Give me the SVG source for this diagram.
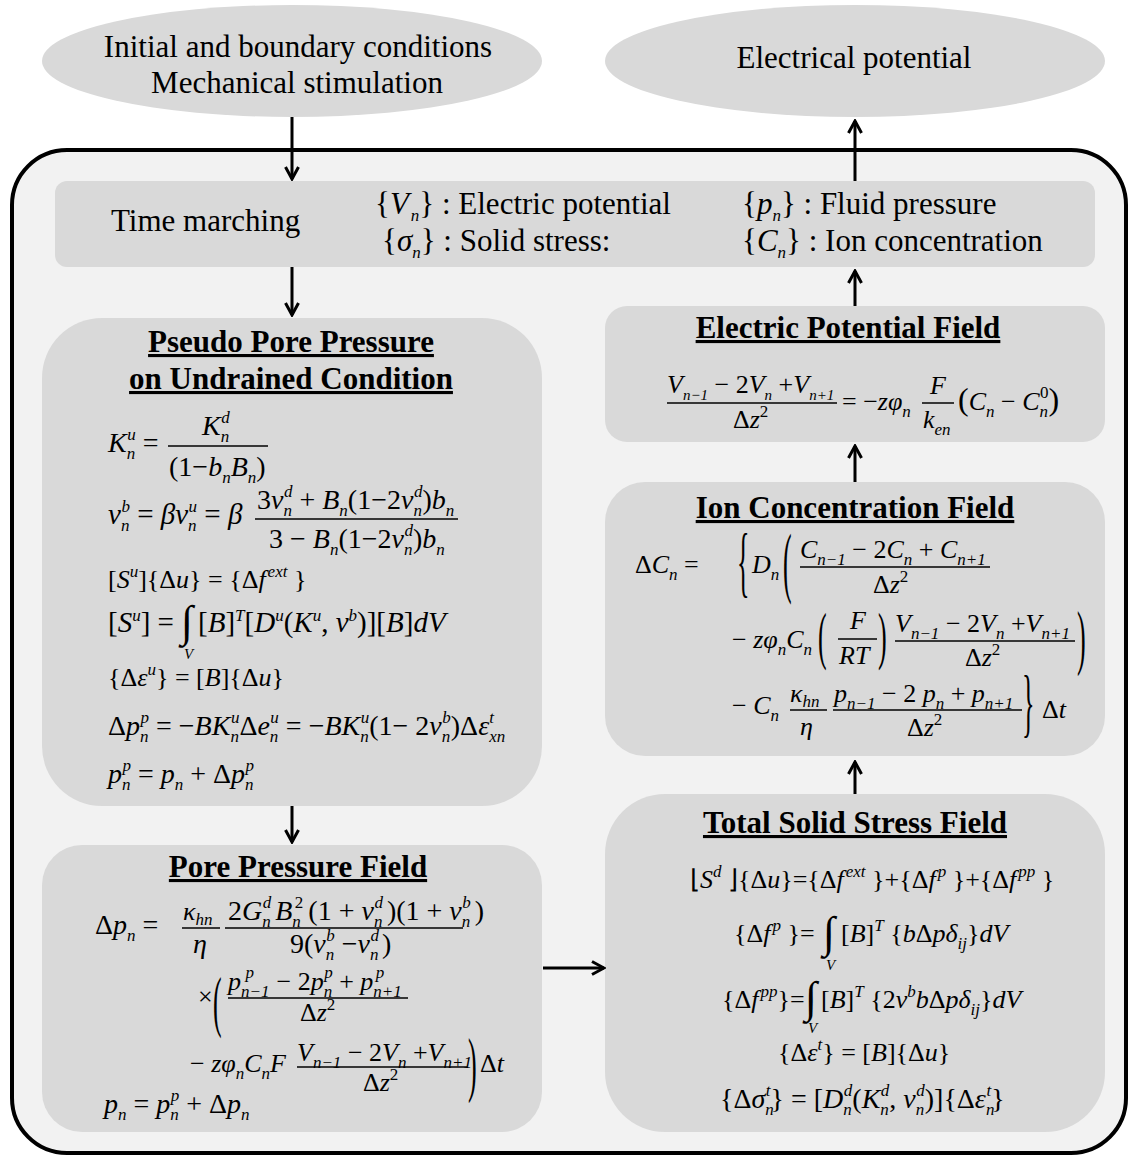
<svg xmlns="http://www.w3.org/2000/svg" width="1129" height="1158" viewBox="0 0 1129 1158">
<defs>
<style>
text{font-family:"Liberation Serif","Times New Roman",serif;fill:#000}
.lbl{font-size:31px}
.tm{font-size:31px}
.ttl{font-size:31px;font-weight:bold;text-decoration:underline;text-anchor:middle}
.eq{font-size:26px}
.e28{font-size:28px}
.e29{font-size:29px}
.i{font-style:italic}
.s{font-size:17px}
.v{font-size:15px;font-style:italic}
.ss{font-size:15px}
.int{font-size:44px}
.fl{stroke:#000;stroke-width:1.5}
.box{fill:#d9d9d9}
.cn{stroke:#000;stroke-width:3;fill:none}
</style>
<marker id="ah" viewBox="0 0 16 16" refX="14" refY="8" markerWidth="16" markerHeight="16" markerUnits="userSpaceOnUse" orient="auto">
<path d="M2,1.5 L14,8 L2,14.5" fill="none" stroke="#000" stroke-width="3"/>
</marker>
</defs>
<rect width="1129" height="1158" fill="#fff"/>

<g id="outer">
<rect x="12" y="150" width="1114" height="1003" rx="55" fill="#f2f2f2" stroke="#000" stroke-width="4"/>
</g>

<g id="node-initial">
<ellipse cx="292" cy="61" rx="250" ry="56" class="box"/>
<text class="lbl" x="298" y="57" text-anchor="middle">Initial and boundary conditions</text>
<text class="lbl" x="297" y="93" text-anchor="middle">Mechanical stimulation</text>
</g>

<g id="node-electrical">
<ellipse cx="855" cy="61" rx="250" ry="56" class="box"/>
<text class="lbl" x="854" y="68" text-anchor="middle">Electrical potential</text>
</g>

<g id="node-time">
<rect x="55" y="181" width="1040" height="86" rx="12" class="box"/>
<text class="tm" x="111" y="231">Time marching</text>
<text class="tm" x="375" y="214">{<tspan class="i">V</tspan><tspan class="s i" dx="2" dy="7">n</tspan><tspan dy="-7">} : Electric potential</tspan></text>
<text class="tm" x="382" y="251">{<tspan class="i">σ</tspan><tspan class="s i" dy="7">n</tspan><tspan dy="-7">}  : Solid stress:</tspan></text>
<text class="tm" x="742" y="214">{<tspan class="i">p</tspan><tspan class="s i" dy="7">n</tspan><tspan dy="-7">}  : Fluid pressure</tspan></text>
<text class="tm" x="742" y="251">{<tspan class="i">C</tspan><tspan class="s i" dy="7">n</tspan><tspan dy="-7">}  : Ion concentration</tspan></text>
</g>

<g id="node-pseudo">
<rect x="42" y="318" width="500" height="488" rx="60" class="box"/>
<text class="ttl" x="291" y="352">Pseudo Pore Pressure</text>
<text class="ttl" x="291" y="389">on Undrained Condition</text>
<text class="e28" x="108" y="452"><tspan class="i">K</tspan><tspan class="s i" dy="7">n</tspan><tspan class="s i" dx="-8" dy="-19">u</tspan><tspan dy="12"> =</tspan></text>
<text class="e28" x="202" y="435"><tspan class="i">K</tspan><tspan class="s i" dy="7">n</tspan><tspan class="s i" dx="-8" dy="-19">d</tspan></text>
<line class="fl" x1="168" y1="446" x2="268" y2="446"/>
<text class="e28" x="169" y="476">(1−<tspan class="i">b</tspan><tspan class="s i" dy="7">n</tspan><tspan class="i" dy="-7">B</tspan><tspan class="s i" dy="7">n</tspan><tspan dy="-7">)</tspan></text>
<text class="e29" x="108" y="524"><tspan class="i">ν</tspan><tspan class="s i" dy="7">n</tspan><tspan class="s i" dx="-8" dy="-19">b</tspan><tspan dy="12"> = </tspan><tspan class="i">βν</tspan><tspan class="s i" dy="7">n</tspan><tspan class="s i" dx="-8" dy="-19">u</tspan><tspan dy="12"> = </tspan><tspan class="i">β</tspan></text>
<text class="e28" x="257" y="509">3<tspan class="i">ν</tspan><tspan class="s i" dy="7">n</tspan><tspan class="s i" dx="-8" dy="-19">d</tspan><tspan dy="12"> + </tspan><tspan class="i">B</tspan><tspan class="s i" dy="7">n</tspan><tspan dy="-7">(1−2</tspan><tspan class="i">ν</tspan><tspan class="s i" dy="7">n</tspan><tspan class="s i" dx="-8" dy="-19">d</tspan><tspan dy="12">)</tspan><tspan class="i">b</tspan><tspan class="s i" dy="7">n</tspan></text>
<line class="fl" x1="255" y1="519" x2="458" y2="519"/>
<text class="e28" x="269" y="548">3 − <tspan class="i">B</tspan><tspan class="s i" dy="7">n</tspan><tspan dy="-7">(1−2</tspan><tspan class="i">ν</tspan><tspan class="s i" dy="7">n</tspan><tspan class="s i" dx="-8" dy="-19">d</tspan><tspan dy="12">)</tspan><tspan class="i">b</tspan><tspan class="s i" dy="7">n</tspan></text>
<text class="eq" x="108" y="588">[<tspan class="i">S</tspan><tspan class="s i" dy="-11">u</tspan><tspan dy="11">]{Δ</tspan><tspan class="i">u</tspan><tspan>} = {Δ</tspan><tspan class="i">f</tspan><tspan class="s i" dx="2" dy="-11">ext</tspan><tspan dy="11"> }</tspan></text>
<text class="e29" x="108" y="632">[<tspan class="i">S</tspan><tspan class="s i" dy="-11">u</tspan><tspan dy="11">] =</tspan></text>
<text class="int" x="181" y="636">∫</text>
<text class="v" x="184" y="659">V</text>
<text class="e29" x="198" y="632">[<tspan class="i">B</tspan>]<tspan class="s i" dy="-11">T</tspan><tspan dy="11">[</tspan><tspan class="i">D</tspan><tspan class="s i" dy="-11">u</tspan><tspan dy="11">(</tspan><tspan class="i">K</tspan><tspan class="s i" dy="-11">u</tspan><tspan dy="11">, </tspan><tspan class="i">ν</tspan><tspan class="s i" dy="-11">b</tspan><tspan dy="11">)][</tspan><tspan class="i">B</tspan><tspan>]</tspan><tspan class="i">dV</tspan></text>
<text class="eq" x="108" y="686">{Δ<tspan class="i">ε</tspan><tspan class="s i" dy="-11">u</tspan><tspan dy="11">} = [</tspan><tspan class="i">B</tspan><tspan>]{Δ</tspan><tspan class="i">u</tspan><tspan>}</tspan></text>
<text class="e28" x="108" y="735">Δ<tspan class="i">p</tspan><tspan class="s i" dy="7">n</tspan><tspan class="s i" dx="-8" dy="-19">p</tspan><tspan dy="12"> = −</tspan><tspan class="i">BK</tspan><tspan class="s i" dy="7">n</tspan><tspan class="s i" dx="-8" dy="-19">u</tspan><tspan dy="12">Δ</tspan><tspan class="i">e</tspan><tspan class="s i" dy="7">n</tspan><tspan class="s i" dx="-8" dy="-19">u</tspan><tspan dy="12"> = −</tspan><tspan class="i">BK</tspan><tspan class="s i" dy="7">n</tspan><tspan class="s i" dx="-8" dy="-19">u</tspan><tspan dy="12">(1− 2</tspan><tspan class="i">ν</tspan><tspan class="s i" dy="7">n</tspan><tspan class="s i" dx="-8" dy="-19">b</tspan><tspan dy="12">)Δ</tspan><tspan class="i">ε</tspan><tspan class="s i" dy="7">xn</tspan><tspan class="s i" dx="-16" dy="-19">t</tspan></text>
<text class="e28" x="108" y="783"><tspan class="i">p</tspan><tspan class="s i" dy="7">n</tspan><tspan class="s i" dx="-8" dy="-19">p</tspan><tspan dy="12"> = </tspan><tspan class="i">p</tspan><tspan class="s i" dy="7">n</tspan><tspan dy="-7"> + Δ</tspan><tspan class="i">p</tspan><tspan class="s i" dy="7">n</tspan><tspan class="s i" dx="-8" dy="-19">p</tspan></text>
</g>

<g id="node-pore">
<rect x="42" y="845" width="500" height="287" rx="40" class="box"/>
<text class="ttl" x="298" y="877">Pore Pressure Field</text>
<text class="e28" x="95" y="934">Δ<tspan class="i">p</tspan><tspan class="s i" dy="7">n</tspan><tspan dy="-7"> =</tspan></text>
<text class="eq" x="183" y="920"><tspan class="i">κ</tspan><tspan class="s i" dy="5">hn</tspan></text>
<line class="fl" x1="182" y1="928" x2="220" y2="928"/>
<text class="e28 i" x="193" y="953">η</text>
<text class="e28" x="228" y="920">2<tspan class="i">G</tspan><tspan class="s i" dy="7">n</tspan><tspan class="s i" dx="-8" dy="-19">d</tspan><tspan class="i" dx="4" dy="12">B</tspan><tspan class="s i" dy="7">n</tspan><tspan class="s" dx="-6" dy="-19">2</tspan><tspan dx="5" dy="12">(1 + </tspan><tspan class="i">ν</tspan><tspan class="s i" dy="7">n</tspan><tspan class="s i" dx="-8" dy="-19">d</tspan><tspan dx="4" dy="12">)(1 + </tspan><tspan class="i">ν</tspan><tspan class="s i" dy="7">n</tspan><tspan class="s i" dx="-8" dy="-19">b</tspan><tspan dx="4" dy="12">)</tspan></text>
<line class="fl" x1="225" y1="928" x2="463" y2="928"/>
<text class="e28" x="290" y="953">9(<tspan class="i">ν</tspan><tspan class="s i" dy="7">n</tspan><tspan class="s i" dx="-8" dy="-19">b</tspan><tspan dy="12"> −</tspan><tspan class="i">ν</tspan><tspan class="s i" dy="7">n</tspan><tspan class="s i" dx="-8" dy="-19">d</tspan><tspan dx="3" dy="12">)</tspan></text>
<text class="eq" x="198" y="1005">×</text>
<text class="eq" transform="translate(213,1024) scale(1,2.6)">(</text>
<text class="eq" x="228" y="990"><tspan class="i">p</tspan><tspan class="s i" dy="7">n−1</tspan><tspan class="s i" dx="-24" dy="-19">p</tspan><tspan dx="16" dy="12"> − 2</tspan><tspan class="i">p</tspan><tspan class="s i" dy="7">n</tspan><tspan class="s i" dx="-8" dy="-19">p</tspan><tspan dy="12"> + </tspan><tspan class="i">p</tspan><tspan class="s i" dy="7">n+1</tspan><tspan class="s i" dx="-26" dy="-19">p</tspan></text>
<line class="fl" x1="228" y1="998" x2="408" y2="998"/>
<text class="eq" x="300" y="1021">Δ<tspan class="i">z</tspan><tspan class="s" dy="-11">2</tspan></text>
<text class="eq" x="190" y="1072">− <tspan class="i">zφ</tspan><tspan class="s i" dy="7">n</tspan><tspan class="i" dy="-7">C</tspan><tspan class="s i" dy="7">n</tspan><tspan class="i" dy="-7">F</tspan></text>
<text class="eq" x="297" y="1061"><tspan class="i">V</tspan><tspan class="s i" dy="7">n−1</tspan><tspan dy="-7"> − 2</tspan><tspan class="i">V</tspan><tspan class="s i" dy="7">n</tspan><tspan dy="-7">  +</tspan><tspan class="i">V</tspan><tspan class="s i" dy="7">n+1</tspan></text>
<line class="fl" x1="297" y1="1067" x2="467" y2="1067"/>
<text class="eq" x="363" y="1091">Δ<tspan class="i">z</tspan><tspan class="s" dy="-11">2</tspan></text>
<text class="eq" transform="translate(468,1088) scale(1,2.8)">)</text>
<text class="eq" x="480" y="1072">Δ<tspan class="i">t</tspan></text>
<text class="e28" x="104" y="1113"><tspan class="i">p</tspan><tspan class="s i" dy="7">n</tspan><tspan dy="-7"> = </tspan><tspan class="i">p</tspan><tspan class="s i" dy="7">n</tspan><tspan class="s i" dx="-8" dy="-19">p</tspan><tspan dy="12"> + Δ</tspan><tspan class="i">p</tspan><tspan class="s i" dy="7">n</tspan></text>
</g>

<g id="node-epf">
<rect x="605" y="306" width="500" height="136" rx="22" class="box"/>
<text class="ttl" x="848" y="338">Electric Potential Field</text>
<text class="eq" x="667" y="393"><tspan class="i">V</tspan><tspan class="ss i" dy="7">n−1</tspan><tspan dy="-7"> − 2</tspan><tspan class="i">V</tspan><tspan class="ss i" dy="7">n</tspan><tspan dy="-7"> +</tspan><tspan class="i">V</tspan><tspan class="ss i" dy="7">n+1</tspan></text>
<line class="fl" x1="667" y1="403" x2="837" y2="403"/>
<text class="eq" x="733" y="428">Δ<tspan class="i">z</tspan><tspan class="s" dy="-11">2</tspan></text>
<text class="eq" x="842" y="410">= −<tspan class="i">zφ</tspan><tspan class="s i" dy="7">n</tspan></text>
<text class="eq i" x="930" y="394">F</text>
<line class="fl" x1="922" y1="403" x2="954" y2="403"/>
<text class="eq" x="923" y="428"><tspan class="i">k</tspan><tspan class="s i" dy="7">en</tspan></text>
<text class="eq" x="958" y="410"><tspan font-size="32">(</tspan><tspan class="i">C</tspan><tspan class="s i" dy="7">n</tspan><tspan dy="-7"> − </tspan><tspan class="i">C</tspan><tspan class="s i" dy="7">n</tspan><tspan class="s" dx="-8" dy="-19">0</tspan><tspan font-size="32" dy="12">)</tspan></text>
</g>

<g id="node-icf">
<rect x="605" y="482" width="500" height="274" rx="40" class="box"/>
<text class="ttl" x="855" y="518">Ion Concentration Field</text>
<text class="eq" x="635" y="573">Δ<tspan class="i">C</tspan><tspan class="s i" dy="7">n</tspan><tspan dy="-7"> =</tspan></text>
<text class="eq" transform="translate(737,588) scale(1,3)">{</text>
<text class="eq" x="752" y="573"><tspan class="i">D</tspan><tspan class="s i" dy="7">n</tspan></text>
<text class="eq" transform="translate(783,588) scale(1,3)">(</text>
<text class="eq" x="800" y="558"><tspan class="i">C</tspan><tspan class="s i" dy="7">n−1</tspan><tspan dy="-7"> − 2</tspan><tspan class="i">C</tspan><tspan class="s i" dy="7">n</tspan><tspan dy="-7"> + </tspan><tspan class="i">C</tspan><tspan class="s i" dy="7">n+1</tspan></text>
<line class="fl" x1="800" y1="567" x2="990" y2="567"/>
<text class="eq" x="873" y="593">Δ<tspan class="i">z</tspan><tspan class="s" dy="-11">2</tspan></text>
<text class="eq" x="732" y="648">− <tspan class="i">zφ</tspan><tspan class="s i" dy="7">n</tspan><tspan class="i" dy="-7">C</tspan><tspan class="s i" dy="7">n</tspan></text>
<text class="eq" transform="translate(818,657) scale(1,2.4)">(</text>
<text class="eq i" x="850" y="629">F</text>
<line class="fl" x1="838" y1="639" x2="877" y2="639"/>
<text class="eq i" x="839" y="664">RT</text>
<text class="eq" transform="translate(878,657) scale(1,2.4)">)</text>
<text class="eq" x="895" y="632"><tspan class="i">V</tspan><tspan class="s i" dy="7">n−1</tspan><tspan dy="-7"> − 2</tspan><tspan class="i">V</tspan><tspan class="s i" dy="7">n</tspan><tspan dy="-7">  +</tspan><tspan class="i">V</tspan><tspan class="s i" dy="7">n+1</tspan></text>
<line class="fl" x1="895" y1="641" x2="1075" y2="641"/>
<text class="eq" x="965" y="666">Δ<tspan class="i">z</tspan><tspan class="s" dy="-11">2</tspan></text>
<text class="eq" transform="translate(1077,661) scale(1,2.8)">)</text>
<text class="eq" x="732" y="714">− <tspan class="i">C</tspan><tspan class="s i" dy="7">n</tspan></text>
<text class="eq" x="790" y="702"><tspan class="i">κ</tspan><tspan class="s i" dy="5">hn</tspan></text>
<line class="fl" x1="790" y1="710" x2="827" y2="710"/>
<text class="eq i" x="800" y="735">η</text>
<text class="eq" x="834" y="702"><tspan class="i">p</tspan><tspan class="s i" dy="7">n−1</tspan><tspan dy="-7"> − 2 </tspan><tspan class="i">p</tspan><tspan class="s i" dy="7">n</tspan><tspan dy="-7"> + </tspan><tspan class="i">p</tspan><tspan class="s i" dy="7">n+1</tspan></text>
<line class="fl" x1="833" y1="710" x2="1022" y2="710"/>
<text class="eq" x="907" y="736">Δ<tspan class="i">z</tspan><tspan class="s" dy="-11">2</tspan></text>
<text class="eq" transform="translate(1022,728) scale(1,2.9)">}</text>
<text class="eq" x="1042" y="718">Δ<tspan class="i">t</tspan></text>
</g>

<g id="node-tss">
<rect x="605" y="794" width="500" height="338" rx="60" class="box"/>
<text class="ttl" x="855" y="833">Total Solid Stress Field</text>
<text class="eq" x="690" y="888">⌊<tspan class="i">S</tspan><tspan class="s i" dy="-11">d</tspan><tspan dy="11"> ⌋{Δ</tspan><tspan class="i">u</tspan><tspan>}={Δ</tspan><tspan class="i">f</tspan><tspan class="s i" dx="2" dy="-11">ext</tspan><tspan dy="11"> }+{Δ</tspan><tspan class="i">f</tspan><tspan class="s i" dx="2" dy="-11">p</tspan><tspan dy="11"> }+{Δ</tspan><tspan class="i">f</tspan><tspan class="s i" dx="2" dy="-11">pp</tspan><tspan dy="11"> }</tspan></text>
<text class="eq" x="734" y="942">{Δ<tspan class="i">f</tspan><tspan class="s i" dx="2" dy="-11">p</tspan><tspan dy="11"> }=</tspan></text>
<text class="int" x="823" y="947">∫</text>
<text class="v" x="826" y="970">V</text>
<text class="eq" x="841" y="942">[<tspan class="i">B</tspan>]<tspan class="s i" dy="-11">T</tspan><tspan dy="11"> {</tspan><tspan class="i">b</tspan><tspan>Δ</tspan><tspan class="i">pδ</tspan><tspan class="s i" dy="7">ij</tspan><tspan dy="-7">}</tspan><tspan class="i">dV</tspan></text>
<text class="eq" x="722" y="1008">{Δ<tspan class="i">f</tspan><tspan class="s i" dx="2" dy="-11">pp</tspan><tspan dy="11">}=</tspan></text>
<text class="int" x="805" y="1012">∫</text>
<text class="v" x="808" y="1033">V</text>
<text class="eq" x="821" y="1008">[<tspan class="i">B</tspan>]<tspan class="s i" dy="-11">T</tspan><tspan dy="11"> {2</tspan><tspan class="i">ν</tspan><tspan class="s i" dy="-11">b</tspan><tspan class="i" dy="11">b</tspan><tspan>Δ</tspan><tspan class="i">pδ</tspan><tspan class="s i" dy="7">ij</tspan><tspan dy="-7">}</tspan><tspan class="i">dV</tspan></text>
<text class="eq" x="778" y="1061">{Δ<tspan class="i">ε</tspan><tspan class="s i" dy="-11">t</tspan><tspan dy="11">} = [</tspan><tspan class="i">B</tspan><tspan>]{Δ</tspan><tspan class="i">u</tspan><tspan>}</tspan></text>
<text class="e28" x="720" y="1108">{Δ<tspan class="i">σ</tspan><tspan class="s i" dy="7">n</tspan><tspan class="s i" dx="-8" dy="-19">t</tspan><tspan dy="12">} = [</tspan><tspan class="i">D</tspan><tspan class="s i" dy="7">n</tspan><tspan class="s i" dx="-8" dy="-19">d</tspan><tspan dy="12">(</tspan><tspan class="i">K</tspan><tspan class="s i" dy="7">n</tspan><tspan class="s i" dx="-8" dy="-19">d</tspan><tspan dy="12">, </tspan><tspan class="i">ν</tspan><tspan class="s i" dy="7">n</tspan><tspan class="s i" dx="-8" dy="-19">d</tspan><tspan dy="12">)]{Δ</tspan><tspan class="i">ε</tspan><tspan class="s i" dy="7">n</tspan><tspan class="s i" dx="-8" dy="-19">t</tspan><tspan dy="12">}</tspan></text>
</g>

<g id="connectors">
<line class="cn" x1="292" y1="117" x2="292" y2="179" marker-end="url(#ah)"/>
<line class="cn" x1="855" y1="181" x2="855" y2="121" marker-end="url(#ah)"/>
<line class="cn" x1="292" y1="267" x2="292" y2="315" marker-end="url(#ah)"/>
<line class="cn" x1="855" y1="306" x2="855" y2="271" marker-end="url(#ah)"/>
<line class="cn" x1="855" y1="482" x2="855" y2="446" marker-end="url(#ah)"/>
<line class="cn" x1="855" y1="794" x2="855" y2="762" marker-end="url(#ah)"/>
<line class="cn" x1="292" y1="806" x2="292" y2="842" marker-end="url(#ah)"/>
<line class="cn" x1="543" y1="968" x2="604" y2="968" marker-end="url(#ah)"/>
</g>
</svg>
